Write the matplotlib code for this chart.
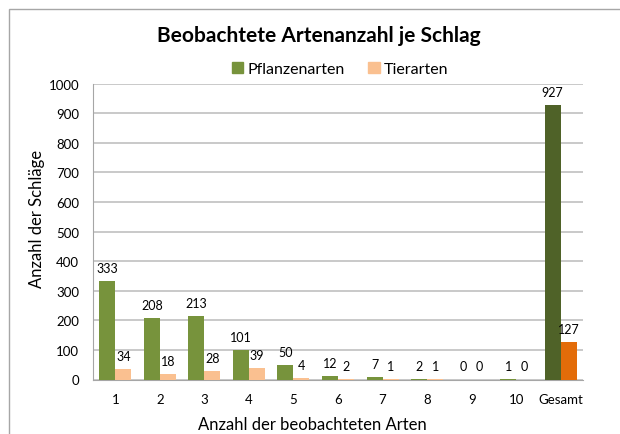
import matplotlib
import matplotlib.pyplot as plt
from matplotlib.patches import Rectangle
import numpy as np

plt.rcParams['font.family'] = ['Lato', 'DejaVu Sans']

categories = ['1', '2', '3', '4', '5', '6', '7', '8', '9', '10', 'Gesamt']
pflanzen = [333, 208, 213, 101, 50, 12, 7, 2, 0, 1, 927]
tiere = [34, 18, 28, 39, 4, 2, 1, 1, 0, 0, 127]

green = '#77933C'
orange = '#FAC090'
dark_green = '#4F6228'
dark_orange = '#E36C09'

W, H = 620, 435
fig = plt.figure(figsize=(6.2, 4.35), dpi=100)
ax = fig.add_axes([93/W, 1 - 380.5/H, 490/W, 296/H])

x = np.arange(len(categories))
w = 0.36
green_cols = [green] * (len(categories) - 1) + [dark_green]
orange_cols = [orange] * (len(categories) - 1) + [dark_orange]
b1 = ax.bar(x - w/2, pflanzen, w, color=green_cols, zorder=3)
b2 = ax.bar(x + w/2, tiere, w, color=orange_cols, zorder=3)

# value labels above bars
for xi, v in zip(x, pflanzen):
    ax.annotate(str(v), (xi - w/2, v), xytext=(0, 6.5), textcoords='offset points',
                ha='center', va='baseline', fontsize=9)
for xi, v in zip(x, tiere):
    ax.annotate(str(v), (xi + w/2, v), xytext=(0, 6.5), textcoords='offset points',
                ha='center', va='baseline', fontsize=9)

ax.set_xlim(-0.5, len(categories) - 0.5)
ax.set_ylim(0, 1000)
ax.set_yticks(range(0, 1001, 100))
ax.set_xticks(x)
ax.set_xticklabels(categories)
ax.tick_params(axis='x', length=0, labelsize=9.5, pad=10)
ax.tick_params(axis='y', length=0, labelsize=9.5, pad=10)
ax.grid(axis='y', color='#C0C0C0', linewidth=1.2, zorder=0)
for s in ['top', 'right']:
    ax.spines[s].set_visible(False)
ax.spines['left'].set_color('#A6A6A6')
ax.spines['bottom'].set_color('#A6A6A6')

fig.text(312/W, 1 - 425/H, 'Anzahl der beobachteten Arten', ha='center', va='center', fontsize=12)
fig.text(37/W, 1 - 219/H, 'Anzahl der Schläge', ha='center', va='center', rotation=90, fontsize=12)

fig.text(319/W, 1 - 36/H, 'Beobachtete Artenanzahl je Schlag', ha='center', va='center',
         fontsize=15, fontweight='bold')
leg = fig.legend(handles=[b1[0], b2[0]], labels=['Pflanzenarten', 'Tierarten'],
                 loc='center', bbox_to_anchor=(340/W, 1 - 70/H), ncol=2, frameon=False,
                 fontsize=11.5, handlelength=0.7, handleheight=0.7, handletextpad=0.25,
                 columnspacing=1.5)
leg.legend_handles[0].set_color(green)
leg.legend_handles[1].set_color(orange)

fig.patches.append(Rectangle((9/W, -0.1), 1.2, 1.1 - 10/H, transform=fig.transFigure,
                             fill=False, edgecolor='#A6A6A6', linewidth=1, clip_on=False))

plt.savefig('out.png')
